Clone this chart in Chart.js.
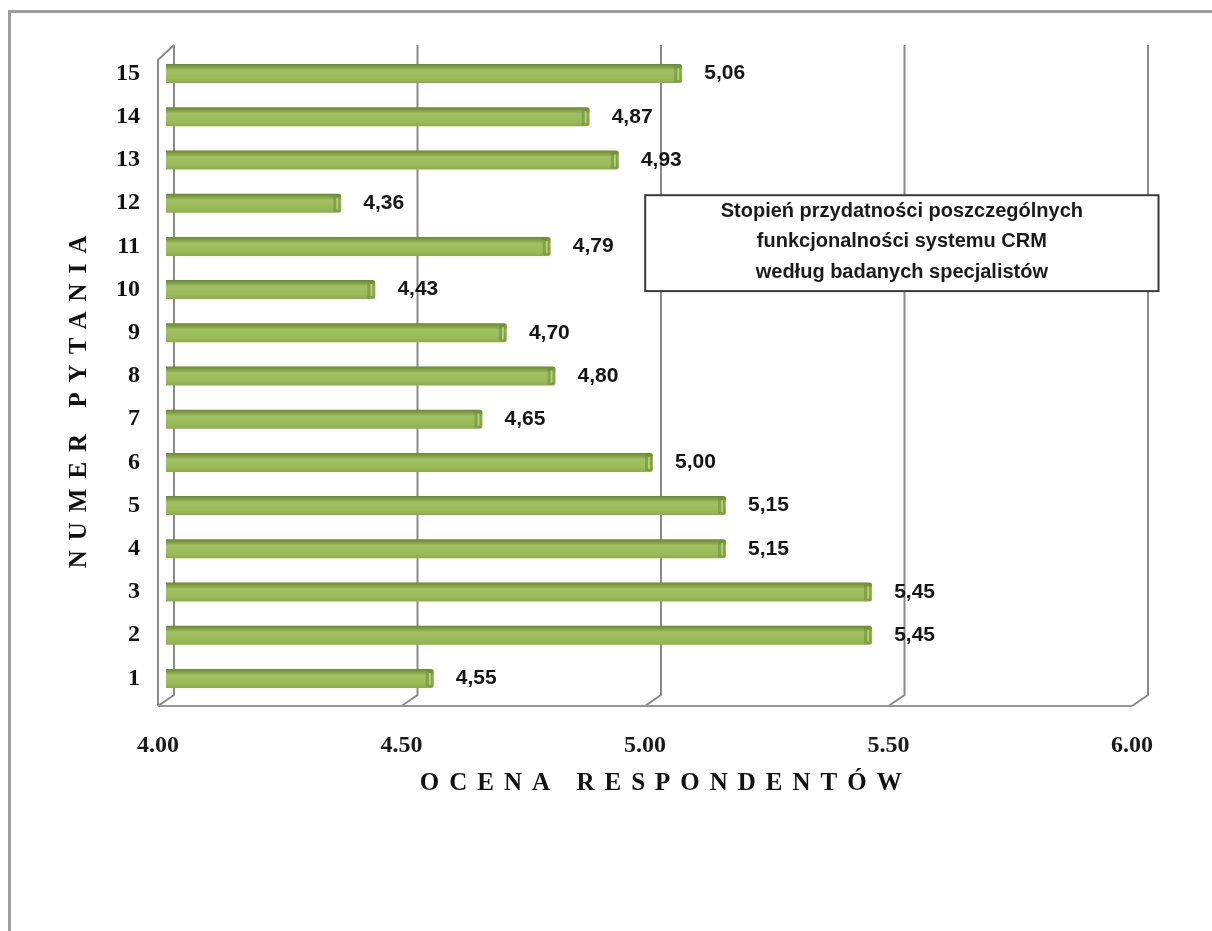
<!DOCTYPE html>
<html lang="pl">
<head>
<meta charset="utf-8">
<title>Stopień przydatności funkcjonalności systemu CRM</title>
<script src="https://cdn.jsdelivr.net/npm/chart.js@4/dist/chart.umd.min.js"></script>
<style>
  html, body { margin: 0; padding: 0; background: #fff; }
  body { width: 1212px; height: 931px; position: relative; overflow: hidden; }
  #ramka {
    position: absolute; left: 8px; top: 10px; width: 1220px; height: 1000px;
    border-left: 3px solid #9c9c9c; border-top: 3px solid #9c9c9c;
  }
  #wykres { position: absolute; left: 0; top: 0; }
</style>
</head>
<body>
<div id="ramka"></div>
<canvas id="wykres" width="1212" height="931"></canvas>
<script>
// Numery pytań (oś Y) i średnie oceny respondentów (oś X)
const pytania = ['1', '2', '3', '4', '5', '6', '7', '8', '9', '10', '11', '12', '13', '14', '15'];
const oceny = [4.55, 5.45, 5.45, 5.15, 5.15, 5.00, 4.65, 4.80, 4.70, 4.43, 4.79, 4.36, 4.93, 4.87, 5.06];
const skalaOd = 4.0;
const skalaDo = 6.0;
const krokSkali = 0.5;

const tytulX = 'OCENA RESPONDENTÓW';
const tytulY = 'NUMER PYTANIA';
const opisWykresu = [
    'Stopień przydatności poszczególnych',
    'funkcjonalności systemu CRM',
    'według badanych specjalistów'
];

const ZIELONY = '#9bbb59';
const SZARY = '#8a8a8a';
const GLEBIA_X = 16;   // przesunięcie "3D" tylnej ściany
const GLEBIA_Y = 11;

// Gradient pionowy dla każdego słupka (ciemniejsza górna krawędź)
function kolorSlupka(c) {
    const chart = c.chart;
    const area = chart.chartArea;
    if (!area || !chart.scales.y) return ZIELONY;
    const y = chart.scales.y.getPixelForValue(c.dataIndex);
    const h = (area.bottom - area.top) / pytania.length * 0.44;
    const g = chart.ctx.createLinearGradient(0, y - h / 2, 0, y + h / 2);
    g.addColorStop(0, '#6b8734');
    g.addColorStop(0.16, '#80a042');
    g.addColorStop(0.34, '#a2c164');
    g.addColorStop(0.75, '#9bbb59');
    g.addColorStop(1, '#8dac4d');
    return g;
}

// Ściana, siatka i podłoga w stylu wykresu 3D
const siatka3D = {
    id: 'siatka3D',
    beforeDatasetsDraw(chart) {
        const { ctx, chartArea } = chart;
        const xs = chart.scales.x;
        const gora = chartArea.top - 7;
        const dolTyl = chartArea.bottom - 5;
        const dolPrzod = dolTyl + GLEBIA_Y;
        ctx.save();
        ctx.strokeStyle = SZARY;
        ctx.lineWidth = 2;
        xs.ticks.forEach(t => {
            const bx = xs.getPixelForValue(t.value) + GLEBIA_X / 2;
            ctx.beginPath();
            ctx.moveTo(bx, gora);
            ctx.lineTo(bx, dolTyl);
            ctx.lineTo(bx - GLEBIA_X, dolPrzod);
            ctx.stroke();
        });
        // lewa ściana
        const lx = xs.getPixelForValue(skalaOd) + GLEBIA_X / 2;
        ctx.beginPath();
        ctx.moveTo(lx, gora);
        ctx.lineTo(lx - GLEBIA_X, gora + 15);
        ctx.lineTo(lx - GLEBIA_X, dolPrzod);
        ctx.stroke();
        // przednia krawędź podłogi
        const px = xs.getPixelForValue(skalaDo) - GLEBIA_X / 2;
        ctx.strokeStyle = '#959595';
        ctx.beginPath();
        ctx.moveTo(lx - GLEBIA_X, dolPrzod);
        ctx.lineTo(px, dolPrzod);
        ctx.stroke();
        ctx.restore();
    }
};

// Zakończenia słupków i etykiety wartości
const etykiety = {
    id: 'etykiety',
    afterDatasetsDraw(chart) {
        const { ctx } = chart;
        const meta = chart.getDatasetMeta(0);
        ctx.save();
        meta.data.forEach((bar, i) => {
            const h = bar.height;
            const top = bar.y - h / 2;
            ctx.fillStyle = 'rgba(110, 140, 55, 0.55)';
            ctx.fillRect(bar.x - 8, top + 1, 7, h - 2);
            ctx.fillStyle = 'rgba(200, 225, 140, 0.7)';
            ctx.fillRect(bar.x - 5, top + 4, 2, h - 7);

            ctx.fillStyle = '#151515';
            ctx.font = 'bold 21px "Liberation Sans", Arial, sans-serif';
            ctx.textAlign = 'left';
            ctx.textBaseline = 'middle';
            ctx.fillText(oceny[i].toFixed(2).replace('.', ','), bar.x + 22, bar.y);
        });
        ctx.restore();
    }
};

// Tytuły osi (rozstrzelone litery) i ramka z opisem
const tytuly = {
    id: 'tytuly',
    afterDraw(chart) {
        const { ctx, chartArea } = chart;
        const w = chartArea.right - chartArea.left;
        const h = chartArea.bottom - chartArea.top;
        ctx.save();
        ctx.fillStyle = '#111';
        ctx.font = 'bold 25px "Liberation Serif", "Times New Roman", serif';
        ctx.textAlign = 'center';
        ctx.textBaseline = 'middle';
        ctx.letterSpacing = '10px';
        ctx.fillText(tytulX, chartArea.left + w * 0.508 + 5, chartArea.bottom + 84);
        ctx.translate(80, chartArea.top + h * 0.54);
        ctx.rotate(-Math.PI / 2);
        ctx.fillText(tytulY, 5, 0);
        ctx.restore();

        // ramka z opisem
        const bx = chartArea.left + w * 0.492;
        const by = chartArea.top + h * 0.221;
        const bw = w * 0.527;
        const bh = h * 0.148;
        ctx.save();
        ctx.fillStyle = '#fff';
        ctx.fillRect(bx, by, bw, bh);
        ctx.strokeStyle = '#3a3a3a';
        ctx.lineWidth = 2;
        ctx.strokeRect(bx, by, bw, bh);
        ctx.fillStyle = '#1a1a1a';
        ctx.font = 'bold 20px "Liberation Sans", Arial, sans-serif';
        ctx.textAlign = 'center';
        ctx.textBaseline = 'middle';
        opisWykresu.forEach((linia, i) => {
            ctx.fillText(linia, bx + bw / 2, by + 16 + i * 30.5);
        });
        ctx.restore();
    }
};

const dane = {
    labels: pytania,
    datasets: [{
        data: oceny,
        backgroundColor: kolorSlupka,
        borderWidth: 0,
        borderRadius: 3,
        borderSkipped: false,
        categoryPercentage: 1.0,
        barPercentage: 0.44
    }]
};

const konfiguracja = {
    type: 'bar',
    data: dane,
    options: {
        indexAxis: 'y',
        responsive: false,
        animation: false,
        layout: { padding: { top: 52, right: 72, bottom: 0, left: 0 } },
        plugins: {
            legend: { display: false },
            tooltip: { enabled: false }
        },
        scales: {
            x: {
                type: 'linear',
                min: skalaOd,
                max: skalaDo,
                grid: { display: false, drawTicks: false },
                border: { display: false },
                ticks: {
                    stepSize: krokSkali,
                    callback: v => Number(v).toFixed(2),
                    font: { family: '"Liberation Serif", "Times New Roman", serif', size: 24, weight: 'bold' },
                    color: '#1a1a1a',
                    padding: 31,
                    labelOffset: -8,
                    maxRotation: 0
                },
                afterFit: s => { s.height = 231; }
            },
            y: {
                type: 'category',
                reverse: true,
                grid: { display: false, drawTicks: false },
                border: { display: false },
                ticks: {
                    font: { family: '"Liberation Serif", "Times New Roman", serif', size: 24, weight: 'bold' },
                    color: '#111',
                    padding: 26
                },
                afterFit: s => { s.width = 166; }
            }
        }
    },
    plugins: [siatka3D, etykiety, tytuly]
};

new Chart(document.getElementById('wykres').getContext('2d'), konfiguracja);
</script>
</body>
</html>
